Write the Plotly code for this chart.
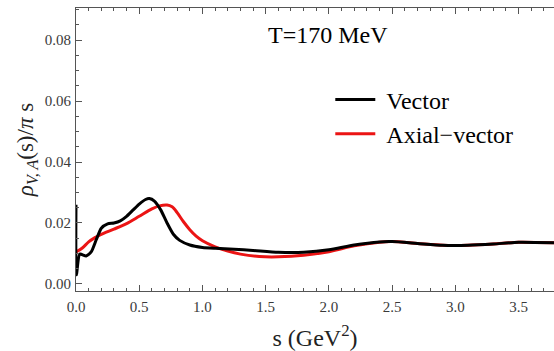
import plotly.graph_objects as go

# Spectral functions at T = 170 MeV
s_vector = [0.0, 0.003, 0.03, 0.08, 0.12, 0.16, 0.2, 0.25, 0.3, 0.35, 0.4, 0.45, 0.5, 0.55,
            0.58, 0.62, 0.67, 0.72, 0.77, 0.82, 0.9, 1.0, 1.1, 1.25, 1.4, 1.6, 1.8, 2.0,
            2.2, 2.4, 2.5, 2.7, 2.9, 3.1, 3.3, 3.5, 3.78]
rho_vector = [0.026, 0.003, 0.0098, 0.0092, 0.0105, 0.0145, 0.0183, 0.0197, 0.0200, 0.0207,
              0.0222, 0.0242, 0.0262, 0.0277, 0.0280, 0.0272, 0.0243, 0.0200, 0.0163, 0.0143,
              0.0128, 0.0120, 0.0117, 0.0114, 0.0110, 0.0104, 0.0104, 0.0112, 0.0128, 0.0138,
              0.0139, 0.0133, 0.0127, 0.0127, 0.0131, 0.0137, 0.0135]

s_axial = [0.0, 0.05, 0.1, 0.15, 0.2, 0.3, 0.4, 0.5, 0.6, 0.66, 0.72, 0.76, 0.8, 0.85, 0.9,
           0.95, 1.0, 1.1, 1.2, 1.3, 1.45, 1.6, 1.8, 2.0, 2.2, 2.4, 2.5, 2.7, 2.9, 3.1,
           3.3, 3.5, 3.78]
rho_axial = [0.0105, 0.0118, 0.0138, 0.0152, 0.0163, 0.0180, 0.0198, 0.0222, 0.0246, 0.0256,
             0.0259, 0.0253, 0.0234, 0.0204, 0.0178, 0.0157, 0.0142, 0.0122, 0.0108, 0.0098,
             0.0090, 0.0089, 0.0094, 0.0106, 0.0125, 0.0137, 0.0139, 0.0133, 0.0127, 0.0127,
             0.0131, 0.0137, 0.0135]

x_ticks = [0.0, 0.5, 1.0, 1.5, 2.0, 2.5, 3.0, 3.5]
y_ticks = [0.00, 0.02, 0.04, 0.06, 0.08]

serif = "Liberation Serif, Times New Roman, serif"

fig = go.Figure()
fig.add_trace(go.Scatter(
    x=s_axial, y=rho_axial, mode="lines", name="\u00a0Axial\u2212vector",
    line=dict(color="rgb(235,20,20)", width=3, shape="spline", smoothing=0.8),
    legendrank=2,
))
fig.add_trace(go.Scatter(
    x=s_vector, y=rho_vector, mode="lines", name="\u00a0Vector",
    line=dict(color="black", width=3, shape="spline", smoothing=0.6),
    legendrank=1,
))

axis_common = dict(
    showgrid=False, zeroline=False, showline=True, linecolor="#555", linewidth=1,
    ticks="inside", ticklen=6, tickwidth=1, tickcolor="#555",
    tickfont=dict(family=serif, size=15, color="#3a3a3a"),
)

fig.update_xaxes(
    range=[0, 3.78], tickvals=x_ticks, ticktext=[f"{v:.1f}" for v in x_ticks],
    mirror="ticks", ticklabelstandoff=2,
    minor=dict(ticks="inside", ticklen=3, dtick=0.1, tickcolor="#555", showgrid=False),
    title=dict(text="s (GeV<sup>2</sup>)", font=dict(family=serif, size=24, color="#222"),
               standoff=15),
    **axis_common,
)
fig.update_yaxes(
    range=[-0.0023, 0.0905], tickvals=y_ticks, ticktext=[f"{v:.2f}" for v in y_ticks],
    ticklabelstandoff=1,
    minor=dict(ticks="inside", ticklen=3, dtick=0.005, tickcolor="#555", showgrid=False),
    title=dict(text="<i>ρ</i><sub><i>V, A</i></sub>(s)/<i>π</i> s",
               font=dict(family=serif, size=23, color="#222"), standoff=4),
    **axis_common,
)

fig.add_annotation(
    x=1.99, y=0.0815, xref="x", yref="y", text="T=170 MeV", showarrow=False,
    xanchor="center", yanchor="middle",
    font=dict(family=serif, size=24, color="black"),
)

fig.update_layout(
    width=554, height=351,
    margin=dict(l=76, r=0, t=8, b=60),
    paper_bgcolor="white", plot_bgcolor="white",
    showlegend=True,
    legend=dict(
        x=0.532, y=0.755, xanchor="left", yanchor="top",
        font=dict(family=serif, size=24, color="black"),
        bgcolor="rgba(0,0,0,0)", itemwidth=40, tracegroupgap=0,
    ),
)

fig.write_html("out.html")
